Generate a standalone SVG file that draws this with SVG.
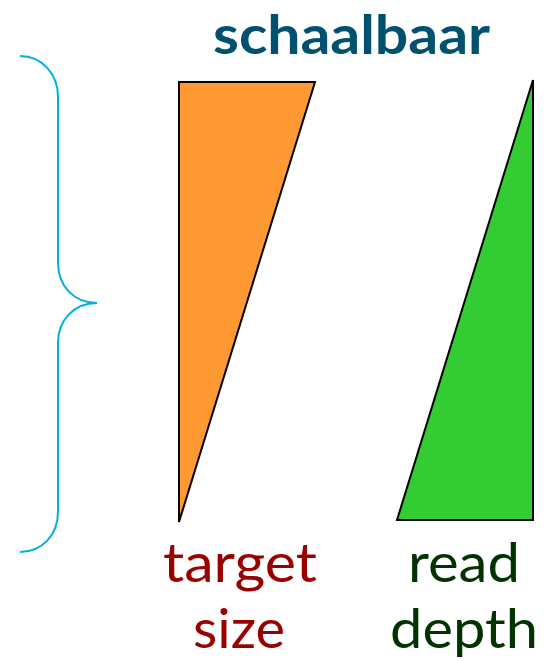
<svg xmlns="http://www.w3.org/2000/svg" width="557" height="661" viewBox="0 0 557 661">
  <style>
    .lbl { font-family: Lato, "Open Sans", "Liberation Sans", sans-serif; font-size: 55px; }
    .title { font-family: Lato, "Open Sans", "Liberation Sans", sans-serif; font-size: 54px; font-weight: bold; fill: #005170; }
    .wedge { stroke: #000; stroke-width: 2; stroke-linejoin: miter; }
  </style>
  <rect width="557" height="661" fill="#fff"/>
  <g id="brace">
    <path d="M20,56 C42,56 58,74 58,97 L58,263 C58,286 74,303 97,303 C74,303 58,320 58,343 L58,512 C58,535 42,552 20,552" fill="none" stroke="#00B0E0" stroke-width="2"/>
  </g>
  <g id="title">
    <text class="title" x="213" y="54" textLength="277" lengthAdjust="spacingAndGlyphs">schaalbaar</text>
  </g>
  <g id="target-size">
    <polygon class="wedge" points="179,82 315,82 179,522" fill="#FF9933"/>
    <text class="lbl" fill="#990000" x="163" y="582" textLength="154" lengthAdjust="spacingAndGlyphs">target</text>
    <text class="lbl" fill="#990000" x="193" y="648" textLength="92" lengthAdjust="spacingAndGlyphs">size</text>
  </g>
  <g id="read-depth">
    <polygon class="wedge" points="533,80 533,520 397,520" fill="#33CC33"/>
    <text class="lbl" fill="#003300" x="408" y="582" textLength="112" lengthAdjust="spacingAndGlyphs">read</text>
    <text class="lbl" fill="#003300" x="390" y="648" textLength="148" lengthAdjust="spacingAndGlyphs">depth</text>
  </g>
</svg>
